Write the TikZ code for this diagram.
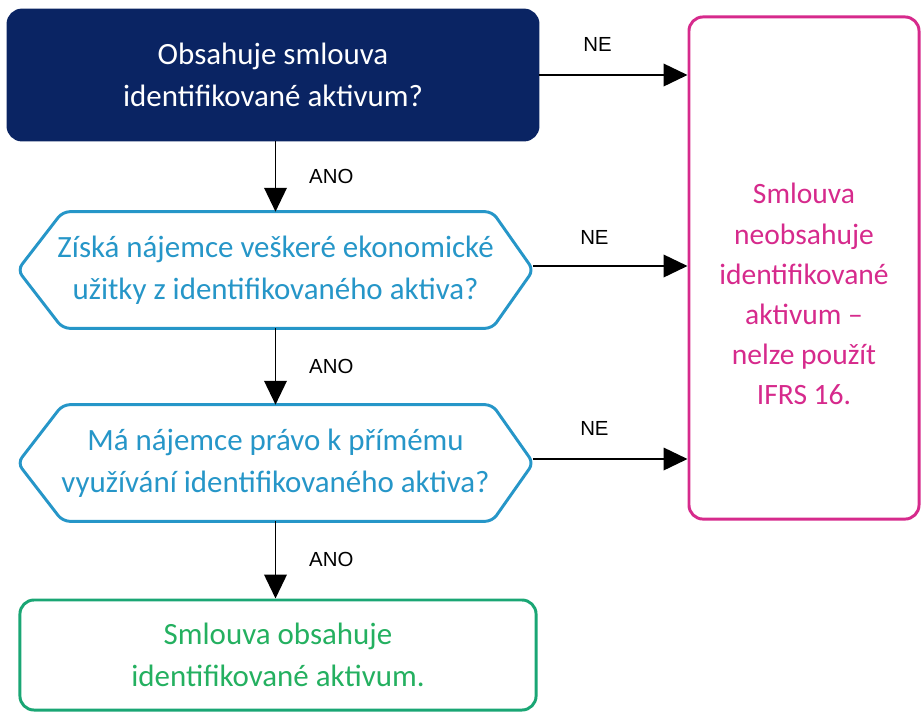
\documentclass[tikz,border=0pt]{standalone}
\usepackage{fontspec}
\setmainfont{Carlito}
\newfontfamily\lblfont{Liberation Sans}
\usetikzlibrary{arrows.meta,positioning,calc}
\definecolor{navy}{RGB}{10,36,99}
\definecolor{qblue}{RGB}{38,150,200}
\definecolor{nopink}{RGB}{214,42,140}
\definecolor{okgreen}{RGB}{26,166,116}
\definecolor{oktext}{RGB}{36,176,96}

\begin{document}
\begin{tikzpicture}[x=0.025cm,y=-0.025cm,>={Triangle[length=17pt,width=16pt]},
  every node/.style={font=\fontsize{22}{30}\selectfont},
  start/.style={draw=navy,fill=navy,line width=2pt,rounded corners=10pt,text=white,align=center,minimum width=13.25cm,minimum height=3.25cm},
  qnode/.style={text=qblue,align=center,inner sep=0pt,minimum width=12.875cm,minimum height=2.9cm},
  hexline/.style={draw=qblue,line width=2.1pt,rounded corners=5pt},
  okbox/.style={draw=okgreen,line width=2.1pt,rounded corners=10pt,text=oktext,align=center,minimum width=12.9cm,minimum height=2.75cm},
  nobox/.style={draw=nopink,line width=2.1pt,rounded corners=10pt,minimum width=5.75cm,minimum height=12.55cm},
  flow/.style={->,line width=1.4pt},
  lbl/.style={font=\lblfont\fontsize{14.5}{17}\selectfont}]

\useasboundingbox (0,0) rectangle (922,713);

% y coordinates of the rows (pixels, downwards)
\def\ya{75}
\def\yb{270}
\def\yc{463}
\def\yd{655}

% question boxes
\node[start] (q1) at (273,\ya) {Obsahuje smlouva\\identifikované aktivum?};
\node[qnode] (q2) at (275.5,\yb) {Získá nájemce veškeré ekonomické\\užitky z identifikovaného aktiva?};
\node[qnode] (q3) at (275.5,\yc) {Má nájemce právo k přímému\\využívání identifikovaného aktiva?};

% hexagon outlines
\foreach \n in {q2,q3}{
  \draw[hexline] (\n.west) -- ($(\n.north west)+(45,0)$) -- ($(\n.north east)+(-41,0)$)
    -- (\n.east) -- ($(\n.south east)+(-41,0)$) -- ($(\n.south west)+(45,0)$) -- cycle;
}

% outcomes
\node[okbox] (ok) at (278,\yd) {Smlouva obsahuje\\identifikované aktivum.};
\node[nobox] (res) at (804,268) {};
\node[text=nopink,align=center,font=\fontsize{21}{28.5}\selectfont] (restxt) at (804,294)
 {Smlouva\\neobsahuje\\identifikované\\aktivum –\\nelze použít\\IFRS 16.};

% ANO arrows
\draw[flow] (q1.south -| q2.north) -- node[lbl,midway,right=0.7cm] (a1) {ANO} (q2.north);
\draw[flow] (q2.south) -- node[lbl,midway,right=0.7cm] (a2) {ANO} (q3.north);
\draw[flow] (q3.south) -- node[lbl,midway,right=0.7cm] (a3) {ANO} (q3.south |- ok.north);

% NE arrows
\draw[flow] (q1.east) -- node[lbl,midway,above=0.45cm,xshift=-0.4cm] (n1) {NE} (q1.east -| res.west);
\draw[flow] ([yshift=0.1cm]q2.east) -- node[lbl,midway,above=0.4cm,xshift=-0.4cm] (n2) {NE} ([yshift=0.1cm]q2.east -| res.west);
\draw[flow] ([yshift=0.1cm]q3.east) -- node[lbl,midway,above=0.45cm,xshift=-0.4cm] (n3) {NE} ([yshift=0.1cm]q3.east -| res.west);

\end{tikzpicture}
\end{document}
